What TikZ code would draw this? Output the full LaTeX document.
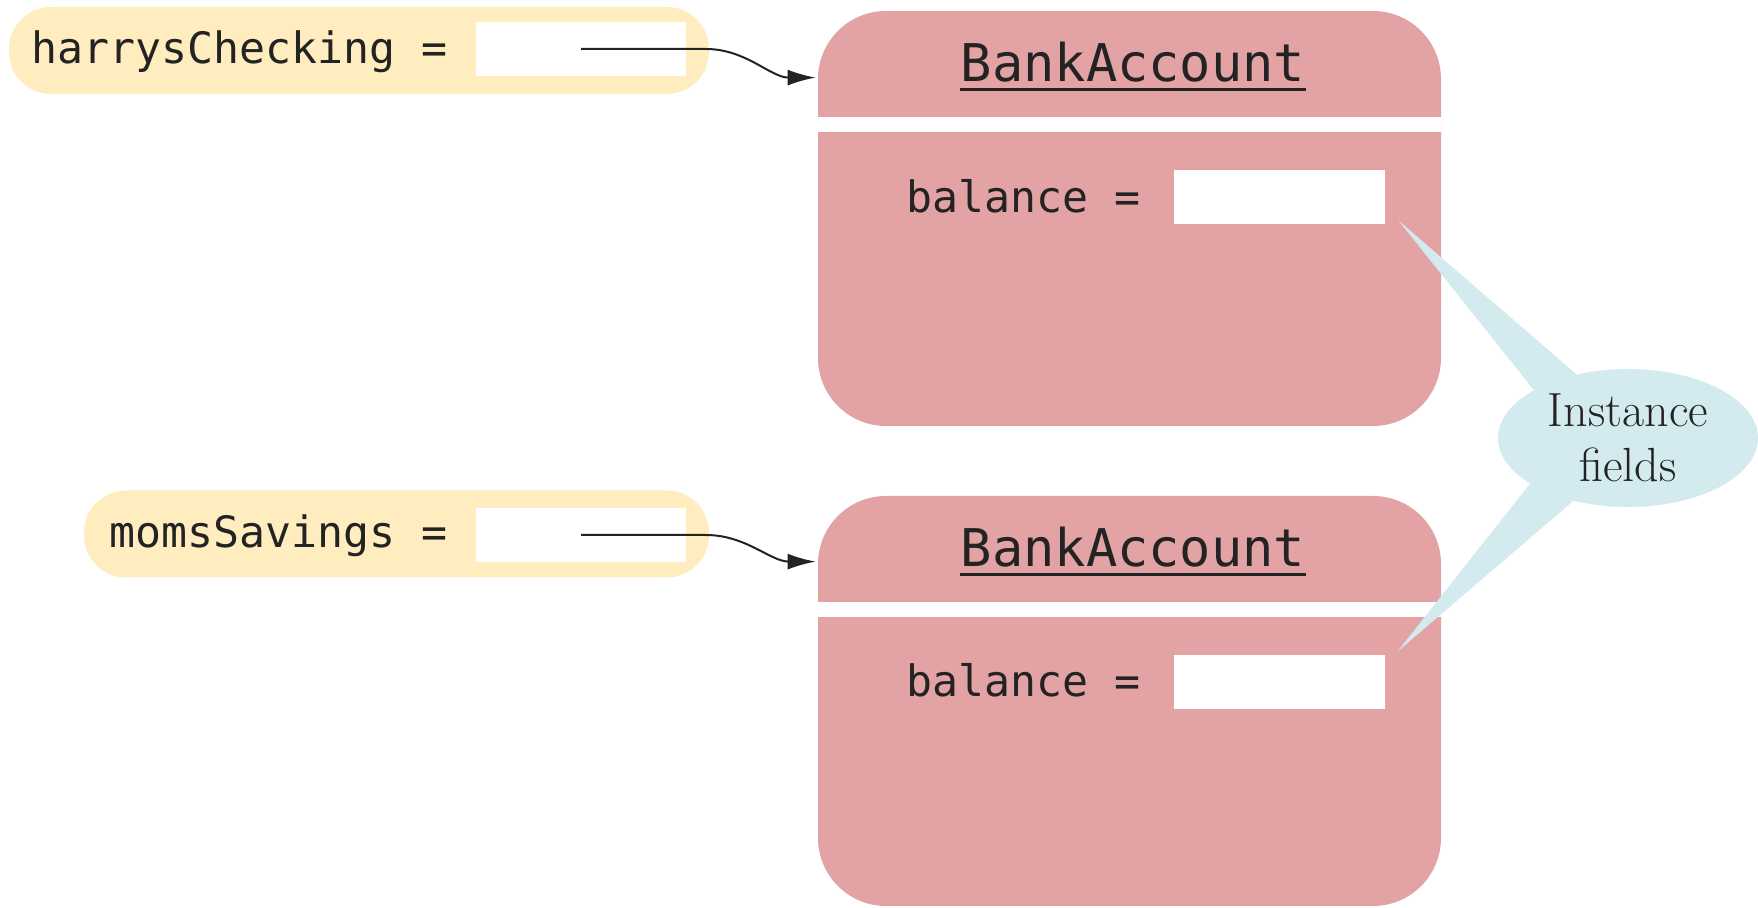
\documentclass[tikz,border=0pt]{standalone}
\usepackage{fontspec}
\newfontfamily\codefont{DejaVu Sans Mono}
\usetikzlibrary{shapes.geometric,arrows.meta}
\definecolor{pillyellow}{RGB}{255,237,192}
\definecolor{objpink}{RGB}{227,163,165}
\definecolor{noteblue}{RGB}{211,234,239}
\definecolor{ink}{RGB}{35,35,35}
\begin{document}
\begin{tikzpicture}[x=0.5pt,y=-0.5pt,
  pill/.style={fill=pillyellow, rounded corners=21pt, inner sep=0pt, minimum height=43.5pt},
  slot/.style={fill=white, inner sep=0pt, minimum width=105pt, minimum height=27pt},
  bank/.style={fill=objpink, rounded corners=34pt, inner sep=0pt, minimum width=311.5pt},
  code/.style={text=ink, inner sep=0pt, font=\codefont\fontsize{21.6}{26}\selectfont},
  title/.style={text=ink, inner sep=0pt, font=\codefont\fontsize{26}{30}\selectfont},
  ptr/.style={draw=ink, line width=1pt, -{Latex[length=14pt,width=8pt]}},
  note/.style={ellipse, fill=noteblue, inner sep=0pt, minimum width=130pt, minimum height=69pt,
    text=ink, align=center, font=\fontsize{24}{27.5}\selectfont},
]
\useasboundingbox (0,0) rectangle (1758,908);

% variables on the left
\node[pill, minimum width=350pt] (var1) at (359,50.5) {};
\node[pill, minimum width=312.5pt] (var2) at (396.5,534) {};
\node[slot] (slot1) at (581,49) {};
\node[slot] (slot2) at (581,535) {};
\node[code, anchor=base east] (lbl1) at (448,64) {harrysChecking =};
\node[code, anchor=base east] (lbl2) at (448,548) {momsSavings =};

% the two BankAccount objects
\node[bank, minimum height=207.5pt] (acc1) at (1129.5,218.5) {};
\node[bank, minimum height=205pt] (acc2) at (1129.5,701) {};
\fill[white] (818,117) rectangle (1441,132);
\fill[white] (818,602) rectangle (1441,617);

\node[title, anchor=base] (t1) at (1133,82) {BankAccount};
\node[title, anchor=base] (t2) at (1133,567) {BankAccount};
\draw[ink, line width=1.5pt] ([yshift=-4pt]t1.base west) -- ([yshift=-4pt]t1.base east);
\draw[ink, line width=1.5pt] ([yshift=-4pt]t2.base west) -- ([yshift=-4pt]t2.base east);

\node[code, anchor=base east] (b1) at (1141,213) {balance =};
\node[code, anchor=base east] (b2) at (1141,697) {balance =};
\node[slot, minimum width=105.5pt] (val1) at (1279.5,197) {};
\node[slot, minimum width=105.5pt] (val2) at (1279.5,682) {};

% references from the variables to the objects
\coordinate (in1) at ([shift={(-2,67)}]acc1.north west);
\coordinate (in2) at ([shift={(-2,66)}]acc2.north west);
\draw[ptr] (slot1.center) -- ++(125,0) .. controls ++(40,0) and ++(-45,0) .. (in1);
\draw[ptr] (slot2.center) -- ++(125,0) .. controls ++(40,0) and ++(-45,0) .. (in2);

% callout
\node[note] (note) at (1628,438) {Instance\\fields};
\coordinate (tip1) at ([shift={(13,-4)}]val1.south east);
\coordinate (tip2) at ([shift={(12,-3)}]val2.north east);
\fill[noteblue] (tip1) -- (note.153) -- (note.129) -- cycle;
\fill[noteblue] (tip2) -- (note.205) -- (note.229) -- cycle;
\end{tikzpicture}
\end{document}
